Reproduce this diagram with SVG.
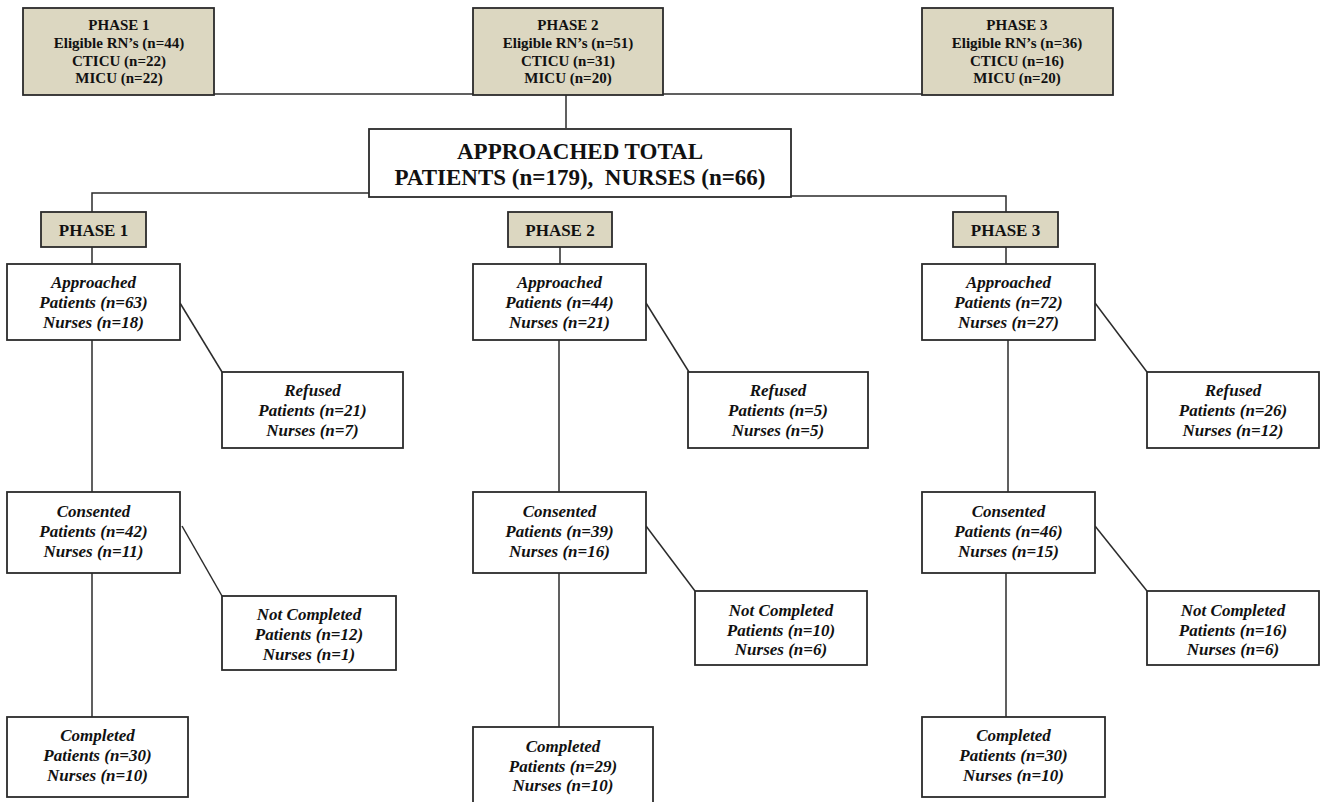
<svg xmlns="http://www.w3.org/2000/svg" width="1325" height="802" viewBox="0 0 1325 802">
<style>
.bx{fill:#ffffff;stroke:#2b2b2b;stroke-width:1.8}
.ph{fill:#dcd7c1;stroke:#2b2b2b;stroke-width:1.8}
.ln{stroke:#2b2b2b;stroke-width:1.5;fill:none}
text{font-family:'Liberation Serif','DejaVu Serif',serif;font-weight:bold;fill:#111;text-anchor:middle}
.t15{font-size:15px}
.t17{font-size:17px}
.t22{font-size:23px}
.it{font-size:17px;font-style:italic}
</style>
<rect width="1325" height="802" fill="#ffffff"/>
<g id="connectors">
<line class="ln" x1="214" y1="94" x2="922" y2="94"/>
<line class="ln" x1="566" y1="95" x2="566" y2="128"/>
<polyline class="ln" points="369,193 92,193 92,212"/>
<polyline class="ln" points="791,196 1006,196 1006,212"/>
<line class="ln" x1="92" y1="247" x2="92" y2="264"/>
<line class="ln" x1="92" y1="340" x2="92" y2="492"/>
<line class="ln" x1="180" y1="303" x2="222" y2="372"/>
<line class="ln" x1="182" y1="526" x2="222" y2="596"/>
<line class="ln" x1="92" y1="561" x2="92" y2="717"/>
<line class="ln" x1="560" y1="247" x2="560" y2="264"/>
<line class="ln" x1="559" y1="340" x2="559" y2="492"/>
<line class="ln" x1="646" y1="303" x2="689" y2="372"/>
<line class="ln" x1="646" y1="526" x2="695" y2="591"/>
<line class="ln" x1="559" y1="564" x2="559" y2="727"/>
<line class="ln" x1="1006" y1="247" x2="1006" y2="264"/>
<line class="ln" x1="1008" y1="340" x2="1008" y2="492"/>
<line class="ln" x1="1095" y1="303" x2="1147" y2="372"/>
<line class="ln" x1="1095" y1="526" x2="1147" y2="591"/>
<line class="ln" x1="1006" y1="562" x2="1006" y2="717"/>
</g>
<g id="top-phase1">
<rect class="ph" x="23" y="8" width="191" height="87"/>
<text class="t15" x="119" y="30">PHASE 1</text>
<text class="t15" x="119" y="48">Eligible RN’s (n=44)</text>
<text class="t15" x="119" y="65.5">CTICU (n=22)</text>
<text class="t15" x="119" y="83">MICU (n=22)</text>
</g>
<g id="top-phase2">
<rect class="ph" x="473" y="8" width="190" height="87"/>
<text class="t15" x="568" y="30">PHASE 2</text>
<text class="t15" x="568" y="48">Eligible RN’s (n=51)</text>
<text class="t15" x="568" y="65.5">CTICU (n=31)</text>
<text class="t15" x="568" y="83">MICU (n=20)</text>
</g>
<g id="top-phase3">
<rect class="ph" x="922" y="8" width="191" height="87"/>
<text class="t15" x="1017" y="30">PHASE 3</text>
<text class="t15" x="1017" y="48">Eligible RN’s (n=36)</text>
<text class="t15" x="1017" y="65.5">CTICU (n=16)</text>
<text class="t15" x="1017" y="83">MICU (n=20)</text>
</g>
<g id="total">
<rect class="bx" x="369" y="129" width="422" height="68"/>
<text class="t22" x="580" y="159">APPROACHED TOTAL</text>
<text class="t22" x="580" y="185" xml:space="preserve">PATIENTS (n=179),  NURSES (n=66)</text>
</g>
<g id="phase1-label">
<rect class="ph" x="41" y="212" width="105" height="35"/>
<text class="t17" x="93.5" y="236">PHASE 1</text>
</g>
<g id="phase2-label">
<rect class="ph" x="508" y="212" width="104" height="35"/>
<text class="t17" x="560" y="236">PHASE 2</text>
</g>
<g id="phase3-label">
<rect class="ph" x="953" y="212" width="105" height="35"/>
<text class="t17" x="1005.5" y="236">PHASE 3</text>
</g>
<g id="p1-approached">
<rect class="bx" x="7" y="264" width="173" height="76"/>
<text class="it" x="93.5" y="288">Approached</text>
<text class="it" x="93.5" y="308">Patients (n=63)</text>
<text class="it" x="93.5" y="328">Nurses (n=18)</text>
</g>
<g id="p1-refused">
<rect class="bx" x="222" y="372" width="181" height="76"/>
<text class="it" x="312.5" y="396">Refused</text>
<text class="it" x="312.5" y="416">Patients (n=21)</text>
<text class="it" x="312.5" y="436">Nurses (n=7)</text>
</g>
<g id="p1-consented">
<rect class="bx" x="7" y="492" width="173" height="81"/>
<text class="it" x="93.5" y="517">Consented</text>
<text class="it" x="93.5" y="537">Patients (n=42)</text>
<text class="it" x="93.5" y="557">Nurses (n=11)</text>
</g>
<g id="p1-notcompleted">
<rect class="bx" x="222" y="596" width="174" height="74"/>
<text class="it" x="309" y="620">Not Completed</text>
<text class="it" x="309" y="640">Patients (n=12)</text>
<text class="it" x="309" y="660">Nurses (n=1)</text>
</g>
<g id="p1-completed">
<rect class="bx" x="7" y="717" width="181" height="80"/>
<text class="it" x="97.5" y="741">Completed</text>
<text class="it" x="97.5" y="761">Patients (n=30)</text>
<text class="it" x="97.5" y="781">Nurses (n=10)</text>
</g>
<g id="p2-approached">
<rect class="bx" x="473" y="264" width="173" height="76"/>
<text class="it" x="559.5" y="288">Approached</text>
<text class="it" x="559.5" y="308">Patients (n=44)</text>
<text class="it" x="559.5" y="328">Nurses (n=21)</text>
</g>
<g id="p2-refused">
<rect class="bx" x="688" y="372" width="180" height="76"/>
<text class="it" x="778" y="396">Refused</text>
<text class="it" x="778" y="416">Patients (n=5)</text>
<text class="it" x="778" y="436">Nurses (n=5)</text>
</g>
<g id="p2-consented">
<rect class="bx" x="473" y="492" width="173" height="81"/>
<text class="it" x="559.5" y="517">Consented</text>
<text class="it" x="559.5" y="537">Patients (n=39)</text>
<text class="it" x="559.5" y="557">Nurses (n=16)</text>
</g>
<g id="p2-notcompleted">
<rect class="bx" x="695" y="591" width="172" height="74"/>
<text class="it" x="781" y="616">Not Completed</text>
<text class="it" x="781" y="636">Patients (n=10)</text>
<text class="it" x="781" y="655">Nurses (n=6)</text>
</g>
<g id="p2-completed">
<rect class="bx" x="473" y="727" width="180" height="90"/>
<text class="it" x="563" y="752">Completed</text>
<text class="it" x="563" y="772">Patients (n=29)</text>
<text class="it" x="563" y="791">Nurses (n=10)</text>
</g>
<g id="p3-approached">
<rect class="bx" x="922" y="264" width="173" height="76"/>
<text class="it" x="1008.5" y="288">Approached</text>
<text class="it" x="1008.5" y="308">Patients (n=72)</text>
<text class="it" x="1008.5" y="328">Nurses (n=27)</text>
</g>
<g id="p3-refused">
<rect class="bx" x="1147" y="372" width="172" height="76"/>
<text class="it" x="1233" y="396">Refused</text>
<text class="it" x="1233" y="416">Patients (n=26)</text>
<text class="it" x="1233" y="436">Nurses (n=12)</text>
</g>
<g id="p3-consented">
<rect class="bx" x="922" y="492" width="173" height="81"/>
<text class="it" x="1008.5" y="517">Consented</text>
<text class="it" x="1008.5" y="537">Patients (n=46)</text>
<text class="it" x="1008.5" y="557">Nurses (n=15)</text>
</g>
<g id="p3-notcompleted">
<rect class="bx" x="1147" y="591" width="172" height="74"/>
<text class="it" x="1233" y="616">Not Completed</text>
<text class="it" x="1233" y="636">Patients (n=16)</text>
<text class="it" x="1233" y="655">Nurses (n=6)</text>
</g>
<g id="p3-completed">
<rect class="bx" x="922" y="717" width="183" height="80"/>
<text class="it" x="1013.5" y="741">Completed</text>
<text class="it" x="1013.5" y="761">Patients (n=30)</text>
<text class="it" x="1013.5" y="781">Nurses (n=10)</text>
</g>
</svg>
